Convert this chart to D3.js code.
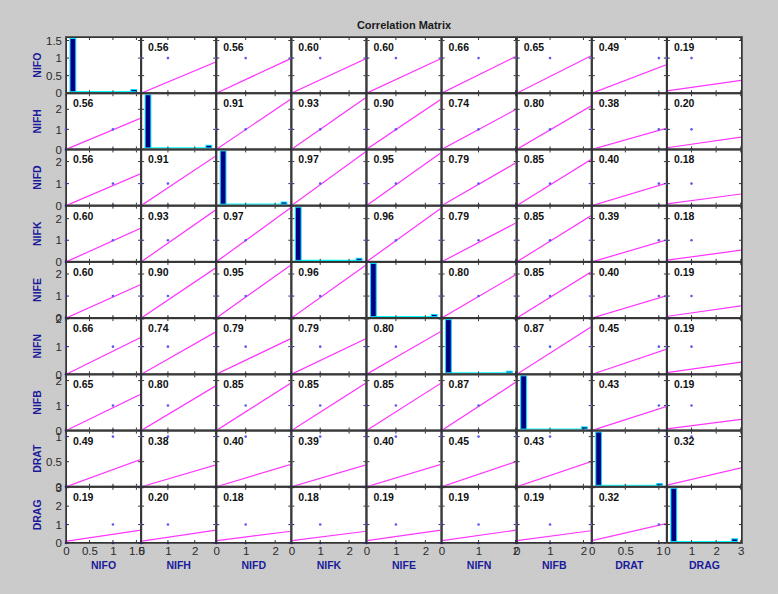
<!DOCTYPE html>
<html>
<head>
<meta charset="utf-8">
<script src="https://cdn.jsdelivr.net/npm/d3@7/dist/d3.min.js"></script>
<style>
  html, body { margin: 0; padding: 0; background: #cccccc; }
  svg { display: block; }
</style>
</head>
<body>
<svg id="chart" width="778" height="594"></svg>
<script>
// ---------------- data ----------------
const variables = ["NIFO", "NIFH", "NIFD", "NIFK", "NIFE", "NIFN", "NIFB", "DRAT", "DRAG"];
const axisMax   = [1.6, 2.8, 2.55, 2.6, 2.55, 2.03, 2.25, 1.12, 3.05];
const axisTicks = [
  [0, 0.5, 1, 1.5],
  [0, 1, 2],
  [0, 1, 2],
  [0, 1, 2],
  [0, 1, 2],
  [0, 1, 2],
  [0, 1, 2],
  [0, 0.5, 1],
  [0, 1, 2, 3]
];
const titleText = "Correlation Matrix";

// correlation coefficients (row variable vs column variable)
const corr = [
  [null, 0.56, 0.56, 0.60, 0.60, 0.66, 0.65, 0.49, 0.19],
  [0.56, null, 0.91, 0.93, 0.90, 0.74, 0.80, 0.38, 0.20],
  [0.56, 0.91, null, 0.97, 0.95, 0.79, 0.85, 0.40, 0.18],
  [0.60, 0.93, 0.97, null, 0.96, 0.79, 0.85, 0.39, 0.18],
  [0.60, 0.90, 0.95, 0.96, null, 0.80, 0.85, 0.40, 0.19],
  [0.66, 0.74, 0.79, 0.79, 0.80, null, 0.87, 0.45, 0.19],
  [0.65, 0.80, 0.85, 0.85, 0.85, 0.87, null, 0.43, 0.19],
  [0.49, 0.38, 0.40, 0.39, 0.40, 0.45, 0.43, null, 0.32],
  [0.19, 0.20, 0.18, 0.18, 0.19, 0.19, 0.19, 0.32, null]
];

// least-squares line: value at x = 0 and value at x = column max,
// both as a share of the row variable's axis range
const fitStart = [
  [null, 0, 0, 0, 0, 0, 0, 0, 0.04],
  [0, null, 0, 0, 0, 0, 0, 0, 0.03],
  [0, 0, null, 0, 0, 0, 0, 0, 0.03],
  [0, 0, 0, null, 0, 0, 0, 0, 0.03],
  [0, 0, 0, 0, null, 0, 0, 0, 0.03],
  [0, 0, 0, 0, 0, null, 0, 0, 0.03],
  [0, 0, 0, 0, 0, 0, null, 0, 0.03],
  [0, 0, 0, 0, 0, 0, 0, null, 0.03],
  [0.03, 0.03, 0.04, 0.04, 0.04, 0.04, 0.04, 0.04, null]
];
const fitEnd = [
  [null, 0.56, 0.62, 0.62, 0.62, 0.66, 0.67, 0.51, 0.23],
  [0.56, null, 0.90, 0.93, 0.90, 0.72, 0.78, 0.38, 0.22],
  [0.57, 0.89, null, 0.97, 0.95, 0.77, 0.83, 0.40, 0.21],
  [0.60, 0.93, 0.97, null, 0.96, 0.70, 0.83, 0.39, 0.21],
  [0.60, 0.90, 0.95, 0.95, null, 0.78, 0.83, 0.40, 0.22],
  [0.66, 0.76, 0.64, 0.64, 0.77, null, 0.85, 0.45, 0.22],
  [0.65, 0.80, 0.85, 0.85, 0.85, 0.87, null, 0.43, 0.20],
  [0.49, 0.39, 0.40, 0.39, 0.40, 0.45, 0.45, null, 0.34],
  [0.23, 0.23, 0.21, 0.21, 0.23, 0.23, 0.22, 0.35, null]
];

// visible scatter points (x from column variable, y from row variable)
const pointX = [0, 1, 0, 1];
const pointY = [0, 0, 1, 1];

// histogram counts on the diagonal (10 bins each)
const histCounts = [
  [100, 0, 0, 0, 0, 0, 0, 0, 0, 4],
  [100, 0, 0, 0, 0, 0, 0, 0, 0, 5],
  [100, 0, 0, 0, 0, 0, 0, 0, 0, 4],
  [100, 0, 0, 0, 0, 0, 0, 0, 0, 4],
  [100, 0, 0, 0, 0, 0, 0, 0, 0, 4],
  [100, 0, 0, 0, 0, 0, 0, 0, 0, 3],
  [100, 0, 0, 0, 0, 0, 0, 0, 0, 4],
  [100, 0, 0, 0, 0, 0, 0, 0, 0, 3],
  [100, 0, 0, 0, 0, 0, 0, 0, 0, 5]
];

// ---------------- drawing ----------------
const svg = d3.select("#chart");
const W = 778, H = 594;
const FONT = "'Liberation Sans', Arial, Helvetica, sans-serif";

// dithered grey figure background
const defs = svg.append("defs");
const pat = defs.append("pattern").attr("id", "dots")
  .attr("width", 2).attr("height", 2).attr("patternUnits", "userSpaceOnUse");
pat.append("rect").attr("width", 2).attr("height", 2).attr("fill", "#cecece");
pat.append("rect").attr("width", 1).attr("height", 1).attr("fill", "#c6c6c6");
pat.append("rect").attr("x", 1).attr("y", 1).attr("width", 1).attr("height", 1).attr("fill", "#c9c9c9");
svg.append("rect").attr("width", W).attr("height", H).attr("fill", "url(#dots)");

const gridL = 66, gridR = 742, gridT = 37, gridB = 543;
const colBand = d3.scaleBand().domain(variables).range([gridL, gridR]);
const rowBand = d3.scaleBand().domain(variables).range([gridT, gridB]);
const n = variables.length;

const xScales = variables.map((v, j) =>
  d3.scaleLinear().domain([0, axisMax[j]]).range([colBand(v), colBand(v) + colBand.bandwidth()]));
const yScales = variables.map((v, i) =>
  d3.scaleLinear().domain([0, axisMax[i]]).range([rowBand(v) + rowBand.bandwidth(), rowBand(v)]));

// title
svg.append("text")
  .attr("x", (gridL + gridR) / 2).attr("y", 29)
  .attr("text-anchor", "middle")
  .attr("font-family", FONT).attr("font-size", 11).attr("font-weight", "bold")
  .attr("fill", "#1a1a1a")
  .text(titleText);

// dark frame behind the grid
svg.append("rect")
  .attr("x", gridL - 1).attr("y", gridT - 1)
  .attr("width", gridR - gridL + 2).attr("height", gridB - gridT + 2)
  .attr("fill", "#5c5c5c");

for (let i = 0; i < n; i++) {
  for (let j = 0; j < n; j++) {
    const x0 = colBand(variables[j]), x1 = x0 + colBand.bandwidth();
    const y0 = rowBand(variables[i]), y1 = y0 + rowBand.bandwidth();
    const g = svg.append("g");
    const clipId = `clip-${i}-${j}`;
    defs.append("clipPath").attr("id", clipId)
      .append("rect").attr("x", x0 + 1).attr("y", y0 + 1)
      .attr("width", x1 - x0 - 2).attr("height", y1 - y0 - 2);

    g.append("rect")
      .attr("x", x0 + 1).attr("y", y0 + 1)
      .attr("width", x1 - x0 - 2).attr("height", y1 - y0 - 2)
      .attr("fill", "#ffffff");

    const xs = xScales[j], ys = yScales[i];
    const inner = g.append("g").attr("clip-path", `url(#${clipId})`);

    if (i === j) {
      // histogram
      const hx = d3.scaleBand().domain(d3.range(histCounts[i].length))
        .range([x0 + 3.5, x1 - 4]).paddingInner(0);
      const hy = d3.scaleLinear().domain([0, d3.max(histCounts[i])])
        .range([y1 - 1.5, y0 + 1.5]);
      // cyan base line under the empty bins
      inner.append("line")
        .attr("x1", hx.range()[0]).attr("x2", hx.range()[1])
        .attr("y1", hy(0)).attr("y2", hy(0))
        .attr("stroke", "#00ffff").attr("stroke-width", 1.2);
      inner.selectAll("rect.bar").data(histCounts[i].map((c, k) => [k, c]).filter(d => d[1] > 0)).join("rect")
        .attr("class", "bar")
        .attr("x", d => hx(d[0]) + 0.5)
        .attr("width", hx.bandwidth() - 1)
        .attr("y", d => hy(d[1]))
        .attr("height", d => hy(0) - hy(d[1]))
        .attr("fill", "#000080")
        .attr("stroke", "#00e0ff")
        .attr("stroke-width", 1);
    } else {
      // regression line
      const line = d3.line().x(d => xs(d[0])).y(d => ys(d[1]));
      inner.append("path")
        .datum([[0, fitStart[i][j] * axisMax[i]], [axisMax[j], fitEnd[i][j] * axisMax[i]]])
        .attr("d", line)
        .attr("fill", "none")
        .attr("stroke", "#ff33ff")
        .attr("stroke-width", 1.2);
      // scatter points
      g.selectAll("circle.pt").data(pointX.map((px, k) => [px, pointY[k]])).join("circle")
        .attr("class", "pt")
        .attr("cx", d => xs(d[0]))
        .attr("cy", d => ys(d[1]))
        .attr("r", 1.3)
        .attr("fill", d => (d[1] === 0 ? "#202080" : "#5a5af0"));
      // correlation value
      g.append("text")
        .attr("x", x0 + 7).attr("y", y0 + 14)
        .attr("font-family", FONT).attr("font-size", 10.5).attr("font-weight", "bold")
        .attr("fill", "#111")
        .text(d3.format(".2f")(corr[i][j]));
    }

    // panel outline
    g.append("rect")
      .attr("x", x0 + 0.5).attr("y", y0 + 0.5)
      .attr("width", x1 - x0 - 1).attr("height", y1 - y0 - 1)
      .attr("fill", "none").attr("stroke", "#333").attr("stroke-width", 1);

    // small tick marks on all four sides
    axisTicks[j].forEach(t => {
      const tx = xs(t);
      g.append("line").attr("x1", tx).attr("x2", tx).attr("y1", y1 - 1).attr("y2", y1 - 3).attr("stroke", "#333");
      g.append("line").attr("x1", tx).attr("x2", tx).attr("y1", y0 + 1).attr("y2", y0 + 3).attr("stroke", "#333");
    });
    axisTicks[i].forEach(t => {
      const ty = ys(t);
      g.append("line").attr("x1", x0 + 1).attr("x2", x0 + 3).attr("y1", ty).attr("y2", ty).attr("stroke", "#333");
      g.append("line").attr("x1", x1 - 1).attr("x2", x1 - 3).attr("y1", ty).attr("y2", ty).attr("stroke", "#333");
    });
  }
}

// y axis labels (left column)
variables.forEach((v, i) => {
  const ys = yScales[i];
  const ax = svg.append("g").attr("transform", `translate(${gridL},0)`)
    .call(d3.axisLeft(ys).tickValues(axisTicks[i]).tickSize(0).tickPadding(4).tickFormat(d => String(d)));
  ax.select(".domain").remove();
  ax.selectAll("text").attr("font-family", FONT).attr("font-size", 11.5).attr("fill", "#2a2a2a");
  svg.append("text")
    .attr("transform", `translate(41,${rowBand(v) + rowBand.bandwidth() / 2}) rotate(-90)`)
    .attr("text-anchor", "middle")
    .attr("font-family", FONT).attr("font-size", 10.5).attr("font-weight", "bold")
    .attr("fill", "#1a1a9a")
    .text(v);
});

// x axis labels (bottom row)
variables.forEach((v, j) => {
  const xs = xScales[j];
  const ax = svg.append("g").attr("transform", `translate(0,${gridB})`)
    .call(d3.axisBottom(xs).tickValues(axisTicks[j]).tickSize(0).tickPadding(4).tickFormat(d => String(d)));
  ax.select(".domain").remove();
  ax.selectAll("text").attr("font-family", FONT).attr("font-size", 11.5).attr("fill", "#2a2a2a");
  svg.append("text")
    .attr("x", colBand(v) + colBand.bandwidth() / 2).attr("y", 569)
    .attr("text-anchor", "middle")
    .attr("font-family", FONT).attr("font-size", 10.5).attr("font-weight", "bold")
    .attr("fill", "#1a1a9a")
    .text(v);
});
</script>
</body>
</html>
